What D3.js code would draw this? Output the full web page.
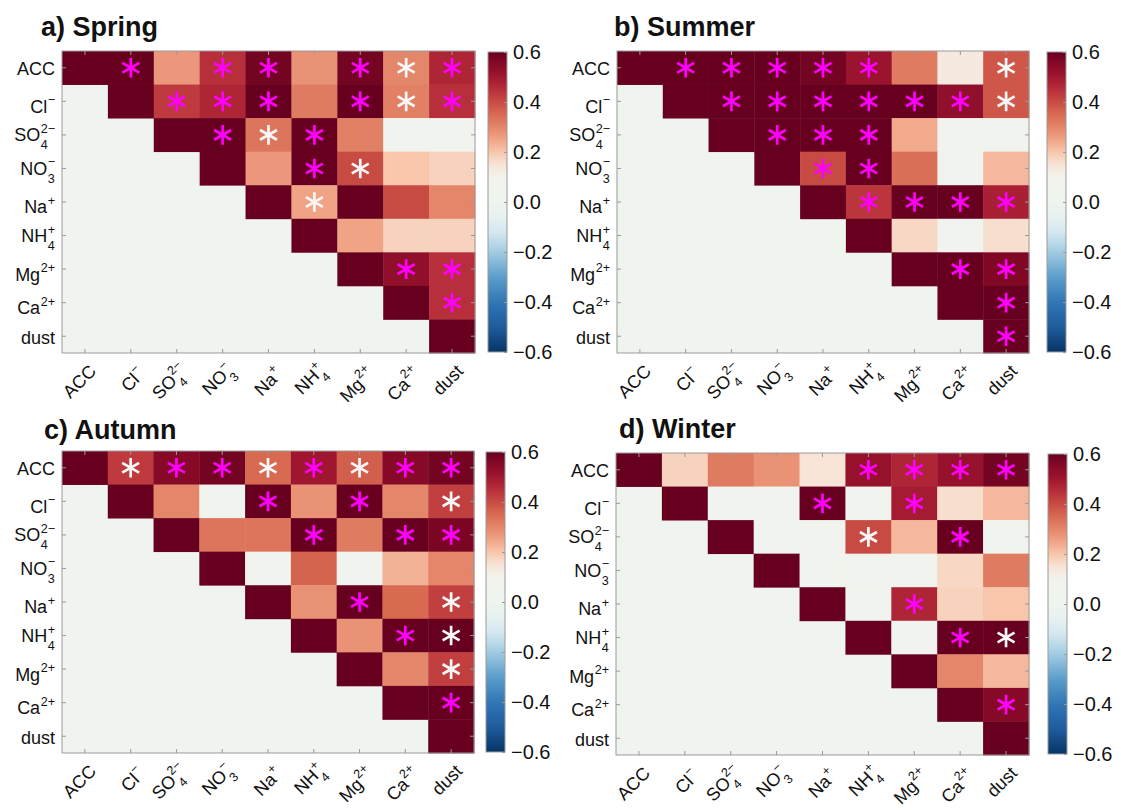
<!DOCTYPE html>
<html>
<head>
<meta charset="utf-8">
<script src="https://cdn.jsdelivr.net/npm/d3@7"></script>
<style>
  body { margin: 0; background: #fff; }
  text { font-family: 'Liberation Sans', Arial, sans-serif; fill: #111; }
</style>
</head>
<body>
<svg id="chart" width="1121" height="810"></svg>
<script>
// Species shown on both axes
const categories = ["ACC", "Cl", "SO4", "NO3", "Na", "NH4", "Mg", "Ca", "dust"];
// Axis label pieces: [base, superscript, subscript]
const labelParts = [
  ["ACC", "", ""], ["Cl", "−", ""], ["SO", "2−", "4"], ["NO", "−", "3"],
  ["Na", "+", ""], ["NH", "+", "4"], ["Mg", "2+", ""], ["Ca", "2+", ""], ["dust", "", ""]
];
const panelTitles = ["a) Spring", "b) Summer", "c) Autumn", "d) Winter"];
const colorTicks = [0.6, 0.4, 0.2, 0.0, -0.2, -0.4, -0.6];

const _ = null;
// Correlation coefficients (upper triangle), one matrix per season
const springR = [
  [1, 0.60, 0.27, 0.45, 0.58, 0.28, 0.58, 0.30, 0.47],
  [_, 1, 0.43, 0.47, 0.60, 0.32, 0.60, 0.31, 0.45],
  [_, _, 1, 0.60, 0.33, 0.60, 0.31, 0.05, 0.05],
  [_, _, _, 1, 0.27, 0.60, 0.40, 0.20, 0.18],
  [_, _, _, _, 1, 0.25, 0.60, 0.40, 0.30],
  [_, _, _, _, _, 1, 0.25, 0.18, 0.18],
  [_, _, _, _, _, _, 1, 0.53, 0.45],
  [_, _, _, _, _, _, _, 1, 0.45],
  [_, _, _, _, _, _, _, _, 1]
];
const summerR = [
  [1, 0.60, 0.60, 0.60, 0.58, 0.51, 0.32, 0.13, 0.38],
  [_, 1, 0.60, 0.60, 0.60, 0.60, 0.60, 0.53, 0.38],
  [_, _, 1, 0.60, 0.60, 0.60, 0.24, 0.05, 0.05],
  [_, _, _, 1, 0.40, 0.60, 0.34, 0.05, 0.22],
  [_, _, _, _, 1, 0.44, 0.60, 0.60, 0.48],
  [_, _, _, _, _, 1, 0.17, 0.05, 0.16],
  [_, _, _, _, _, _, 1, 0.60, 0.56],
  [_, _, _, _, _, _, _, 1, 0.60],
  [_, _, _, _, _, _, _, _, 1]
];
const autumnR = [
  [1, 0.43, 0.55, 0.58, 0.35, 0.50, 0.37, 0.55, 0.58],
  [_, 1, 0.30, 0.05, 0.60, 0.28, 0.60, 0.30, 0.42],
  [_, _, 1, 0.33, 0.33, 0.60, 0.32, 0.60, 0.57],
  [_, _, _, 1, 0.05, 0.36, 0.05, 0.23, 0.30],
  [_, _, _, _, 1, 0.28, 0.60, 0.35, 0.42],
  [_, _, _, _, _, 1, 0.28, 0.60, 0.60],
  [_, _, _, _, _, _, 1, 0.30, 0.42],
  [_, _, _, _, _, _, _, 1, 0.60],
  [_, _, _, _, _, _, _, _, 1]
];
const winterR = [
  [1, 0.18, 0.32, 0.28, 0.15, 0.52, 0.47, 0.52, 0.58],
  [_, 1, 0.05, 0.05, 0.60, 0.05, 0.49, 0.16, 0.22],
  [_, _, 1, 0.05, 0.05, 0.40, 0.22, 0.60, 0.05],
  [_, _, _, 1, 0.05, 0.05, 0.05, 0.17, 0.32],
  [_, _, _, _, 1, 0.05, 0.47, 0.18, 0.20],
  [_, _, _, _, _, 1, 0.05, 0.60, 0.60],
  [_, _, _, _, _, _, 1, 0.30, 0.22],
  [_, _, _, _, _, _, _, 1, 0.55],
  [_, _, _, _, _, _, _, _, 1]
];

// Significance markers: 0 = none, 1 = magenta asterisk, 2 = white asterisk
const springSig = [
  [0, 1, 0, 1, 1, 0, 1, 2, 1],
  [_, 0, 1, 1, 1, 0, 1, 2, 1],
  [_, _, 0, 1, 2, 1, 0, 0, 0],
  [_, _, _, 0, 0, 1, 2, 0, 0],
  [_, _, _, _, 0, 2, 0, 0, 0],
  [_, _, _, _, _, 0, 0, 0, 0],
  [_, _, _, _, _, _, 0, 1, 1],
  [_, _, _, _, _, _, _, 0, 1],
  [_, _, _, _, _, _, _, _, 0]
];
const summerSig = [
  [0, 1, 1, 1, 1, 1, 0, 0, 2],
  [_, 0, 1, 1, 1, 1, 1, 1, 2],
  [_, _, 0, 1, 1, 1, 0, 0, 0],
  [_, _, _, 0, 1, 1, 0, 0, 0],
  [_, _, _, _, 0, 1, 1, 1, 1],
  [_, _, _, _, _, 0, 0, 0, 0],
  [_, _, _, _, _, _, 0, 1, 1],
  [_, _, _, _, _, _, _, 0, 1],
  [_, _, _, _, _, _, _, _, 1]
];
const autumnSig = [
  [0, 2, 1, 1, 2, 1, 2, 1, 1],
  [_, 0, 0, 0, 1, 0, 1, 0, 2],
  [_, _, 0, 0, 0, 1, 0, 1, 1],
  [_, _, _, 0, 0, 0, 0, 0, 0],
  [_, _, _, _, 0, 0, 1, 0, 2],
  [_, _, _, _, _, 0, 0, 1, 2],
  [_, _, _, _, _, _, 0, 0, 2],
  [_, _, _, _, _, _, _, 0, 1],
  [_, _, _, _, _, _, _, _, 0]
];
const winterSig = [
  [0, 0, 0, 0, 0, 1, 1, 1, 1],
  [_, 0, 0, 0, 1, 0, 1, 0, 0],
  [_, _, 0, 0, 0, 2, 0, 1, 0],
  [_, _, _, 0, 0, 0, 0, 0, 0],
  [_, _, _, _, 0, 0, 1, 0, 0],
  [_, _, _, _, _, 0, 0, 1, 2],
  [_, _, _, _, _, _, 0, 0, 0],
  [_, _, _, _, _, _, _, 0, 1],
  [_, _, _, _, _, _, _, _, 0]
];

// Diverging colour map, red for positive / blue for negative
const cmapStops = [-0.6, -0.5, -0.4, -0.3, -0.2, -0.12, -0.05, 0.0, 0.1, 0.15, 0.2, 0.25, 0.3, 0.35, 0.4, 0.45, 0.5, 0.55, 0.6];
const cmapColors = ["#073466", "#1f5c9c", "#3176b5", "#5b9dcb", "#a3cbe2", "#d5e8ef", "#e9f2f1", "#eff4ee", "#f2f3ee",
  "#f8e4d6", "#f7c6ab", "#f1a386", "#e4866a", "#d86a52", "#c84b43", "#b72f3a", "#a01630", "#860a27", "#67001f"];
const color = d3.scaleLinear().domain(cmapStops).range(cmapColors).clamp(true);

// Layout of the four panels
const layout = [
  { left: 62,  top: 51,  w: 413, h: 302, cbx: 488,  tx: 41,  ty: 36 },
  { left: 617, top: 51,  w: 412, h: 302, cbx: 1047, tx: 614, ty: 36 },
  { left: 62,  top: 451, w: 412, h: 302, cbx: 486,  tx: 44,  ty: 439 },
  { left: 616, top: 453, w: 413, h: 302, cbx: 1048, tx: 619, ty: 438 }
];
const seasonR = [springR, summerR, autumnR, winterR];
const seasonSig = [springSig, summerSig, autumnSig, winterSig];

const svg = d3.select("#chart");

// Gradient for the colour bars
const defs = svg.append("defs");
const grad = defs.append("linearGradient").attr("id", "cbar")
  .attr("x1", 0).attr("y1", 1).attr("x2", 0).attr("y2", 0);
d3.range(0, 1.0001, 0.02).forEach(t => {
  grad.append("stop").attr("offset", t).attr("stop-color", color(-0.6 + 1.2 * t));
});

const FONT = "'Liberation Sans', Arial, sans-serif";

// Chemical-formula label: base text with stacked superscript / subscript,
// right edge at the group origin, vertically centred on it
function addLabel(g, parts, fs) {
  const [base, sup, sub] = parts;
  let shift = 0;
  if (sup && !sub) shift = 5;
  else if (!sup && !sub) shift = 1;
  const yb = fs * 0.36 + shift;
  const inner = g.append("g").attr("text-anchor", "start").attr("font-family", FONT);
  const t = inner.append("text").attr("font-size", fs).attr("y", yb).text(base);
  const bw = t.node().getComputedTextLength();
  let extra = 0;
  if (sup) {
    const s = inner.append("text").attr("font-size", fs * 0.7).attr("x", bw + 0.5).attr("y", yb - 8.5).text(sup);
    extra = Math.max(extra, s.node().getComputedTextLength() + 0.5);
  }
  if (sub) {
    const s = inner.append("text").attr("font-size", fs * 0.7).attr("x", bw + 0.5).attr("y", yb + 8).text(sub);
    extra = Math.max(extra, s.node().getComputedTextLength() + 0.5);
  }
  inner.attr("transform", `translate(${-(bw + extra)},0)`);
}

const starPath = (() => {
  const r = 9.8, a = r * Math.cos(Math.PI / 6), b = r * Math.sin(Math.PI / 6);
  return `M0,${-r}L0,${r}M${-a},${-b}L${a},${b}M${-a},${b}L${a},${-b}`;
})();

function drawPanel(k) {
  const p = layout[k], R = seasonR[k], S = seasonSig[k];
  const g = svg.append("g");
  const x = d3.scaleBand().domain(categories).range([p.left, p.left + p.w]);
  const y = d3.scaleBand().domain(categories).range([p.top, p.top + p.h]);

  // empty lower triangle
  g.append("rect").attr("x", p.left).attr("y", p.top).attr("width", p.w).attr("height", p.h)
    .attr("fill", color(0));

  const cells = [];
  R.forEach((row, i) => row.forEach((v, j) => {
    if (v !== null) cells.push({ i, j, v, s: S[i][j] });
  }));

  g.selectAll("rect.cell").data(cells).join("rect").attr("class", "cell")
    .attr("x", d => x(categories[d.j]))
    .attr("y", d => y(categories[d.i]))
    .attr("width", x.bandwidth() + 0.4)
    .attr("height", y.bandwidth() + 0.4)
    .attr("fill", d => color(d.v));

  g.selectAll("path.star").data(cells.filter(d => d.s > 0)).join("path").attr("class", "star")
    .attr("d", starPath)
    .attr("transform", d => `translate(${x(categories[d.j]) + x.bandwidth() / 2},${y(categories[d.i]) + y.bandwidth() / 2})`)
    .attr("fill", "none")
    .attr("stroke", d => d.s === 1 ? "#ff00ff" : "#f7f7f7")
    .attr("stroke-width", 2.7)
    .attr("stroke-linecap", "butt");

  // ticks on all four sides, pointing inward
  const tick = (axis, tr) => {
    const a = g.append("g").attr("transform", tr).call(axis);
    a.select(".domain").remove();
    a.selectAll(".tick line").attr("stroke", "#999");
    a.selectAll(".tick text").remove();
    return a;
  };
  const xb = tick(d3.axisBottom(x).tickSize(-4).tickSizeOuter(0), `translate(0,${p.top + p.h})`);
  tick(d3.axisTop(x).tickSize(-4).tickSizeOuter(0), `translate(0,${p.top})`);
  const yl = tick(d3.axisLeft(y).tickSize(-4).tickSizeOuter(0), `translate(${p.left},0)`);
  tick(d3.axisRight(y).tickSize(-4).tickSizeOuter(0), `translate(${p.left + p.w},0)`);

  yl.selectAll(".tick").each(function (d) {
    const lg = d3.select(this).append("g").attr("transform", "translate(-7,0)");
    addLabel(lg, labelParts[categories.indexOf(d)], 18);
  });
  xb.selectAll(".tick").each(function (d) {
    const lg = d3.select(this).append("g").attr("transform", "translate(7,14) rotate(-45)");
    addLabel(lg, labelParts[categories.indexOf(d)], 18);
  });

  // frame
  g.append("rect").attr("x", p.left).attr("y", p.top).attr("width", p.w).attr("height", p.h)
    .attr("fill", "none").attr("stroke", "#9a9a9a").attr("stroke-width", 1);

  // title
  g.append("text").attr("x", p.tx).attr("y", p.ty)
    .attr("font-size", 27).attr("font-weight", "bold").text(panelTitles[k]);

  // colour bar
  const cTop = p.top + 1, cH = p.h - 2, cW = 19;
  const cy = d3.scaleLinear().domain([-0.6, 0.6]).range([cTop + cH, cTop]);
  g.append("rect").attr("x", p.cbx).attr("y", cTop).attr("width", cW).attr("height", cH)
    .attr("fill", "url(#cbar)").attr("stroke", "#9a9a9a").attr("stroke-width", 1);
  const ca = g.append("g").attr("transform", `translate(${p.cbx + cW},0)`)
    .call(d3.axisRight(cy).tickValues(colorTicks).tickFormat(d3.format(".1f")).tickSize(-3).tickPadding(6));
  ca.select(".domain").remove();
  ca.selectAll(".tick line").attr("stroke", "#9a9a9a");
  ca.selectAll(".tick text").attr("font-size", 20).attr("font-family", FONT).attr("fill", "#111");
}

[0, 1, 2, 3].forEach(drawPanel);
</script>
</body>
</html>
